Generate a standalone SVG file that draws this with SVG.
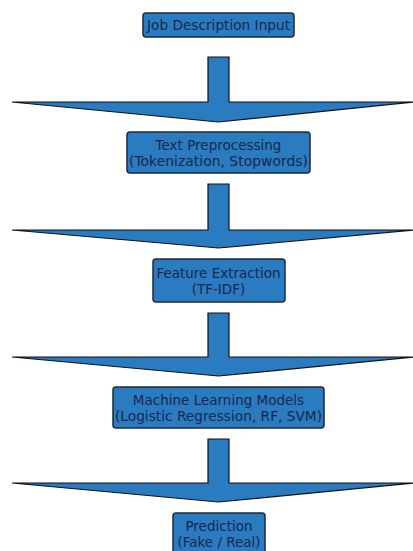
<svg xmlns="http://www.w3.org/2000/svg" width="413" height="551" viewBox="0 0 413 551">
<style>
.box{fill:#2a7bbf;stroke:#1c2b3c;stroke-width:1.5}
.arrow{fill:#2a7bbf;stroke:#111;stroke-width:1.2;stroke-linejoin:miter}
text{font-family:"DejaVu Sans",sans-serif;font-size:13.5px;fill:#16284f;text-anchor:middle}
</style>
<rect width="413" height="551" fill="#fff"/>
<g id="connectors">
<path class="arrow" d="M208,57 H229 V102 H414 L218.5,122 L12,102 H208 Z"/>
<path class="arrow" d="M208,184 H229 V230 H414 L218.5,248 L12,230 H208 Z"/>
<path class="arrow" d="M208,313 H229 V357 H414 L218.5,376 L12,357 H208 Z"/>
<path class="arrow" d="M208,439 H229 V483 H414 L218.5,502 L12,483 H208 Z"/>
</g>
<g id="n1">
<rect class="box" x="143" y="13" width="151" height="24" rx="3"/>
<text x="218.5" y="30" textLength="143" lengthAdjust="spacingAndGlyphs">Job Description Input</text>
</g>
<g id="n2">
<rect class="box" x="127" y="132" width="183" height="41" rx="3"/>
<text x="218.5" y="150">Text Preprocessing</text>
<text x="218.5" y="165.5" textLength="179" lengthAdjust="spacingAndGlyphs">(Tokenization, Stopwords)</text>
</g>
<g id="n3">
<rect class="box" x="153" y="259" width="132" height="43" rx="3"/>
<text x="218.5" y="278">Feature Extraction</text>
<text x="218.5" y="294">(TF-IDF)</text>
</g>
<g id="n4">
<rect class="box" x="113" y="387" width="211" height="41" rx="3"/>
<text x="218.5" y="404.5">Machine Learning Models</text>
<text x="218.5" y="420.5" textLength="207" lengthAdjust="spacingAndGlyphs">(Logistic Regression, RF, SVM)</text>
</g>
<g id="n5">
<rect class="box" x="173" y="513" width="92" height="44" rx="3"/>
<text x="219" y="531">Prediction</text>
<text x="219" y="547">(Fake / Real)</text>
</g>
</svg>
